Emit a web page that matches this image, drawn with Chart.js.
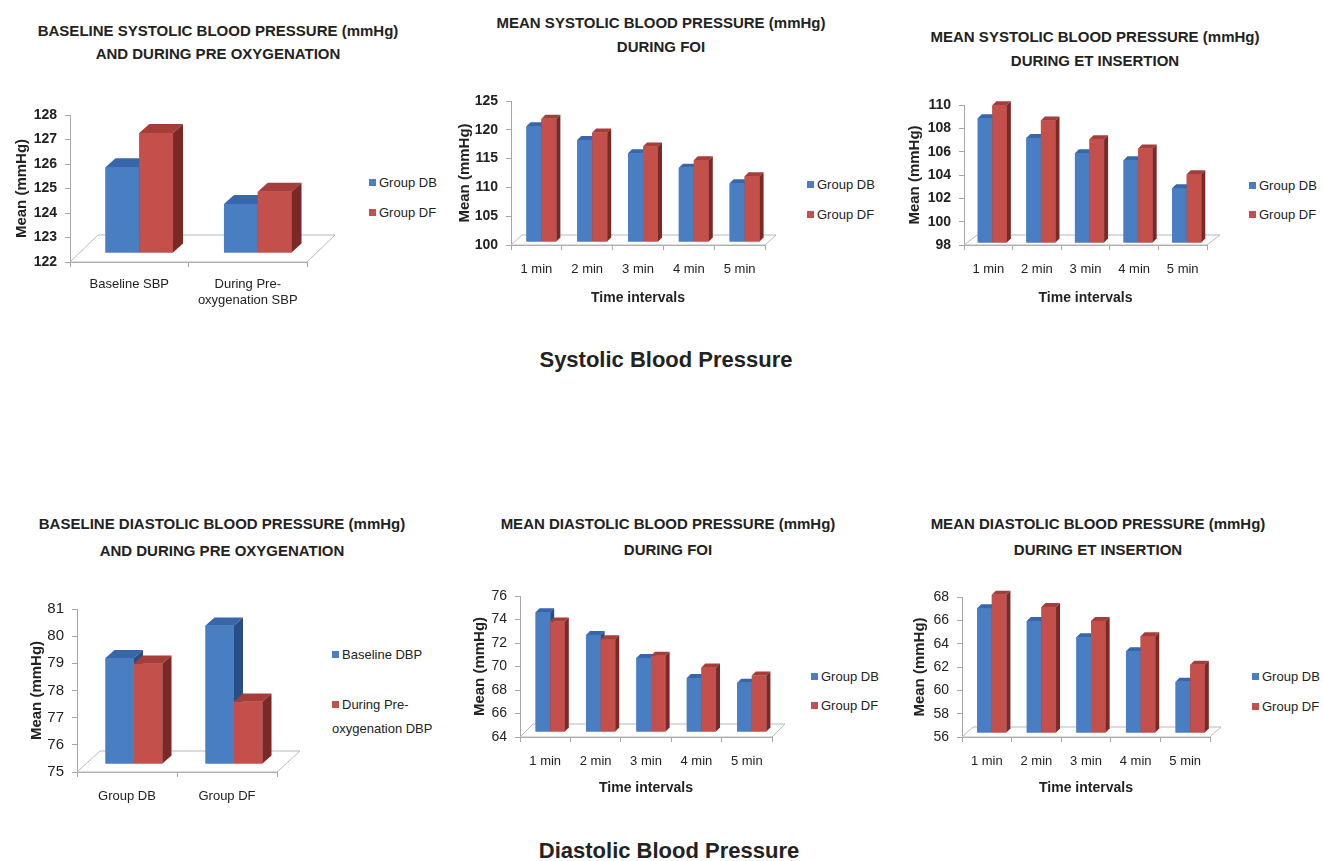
<!DOCTYPE html>
<html>
<head>
<meta charset="utf-8">
<script src="https://cdn.jsdelivr.net/npm/chart.js@4.4.1/dist/chart.umd.min.js"></script>
<style>
  body { margin: 0; background: #fff; width: 1323px; height: 861px; position: relative; overflow: hidden;
         font-family: 'Liberation Sans Narrow', 'Arial Narrow', 'Liberation Sans', sans-serif; color: #222; }
  canvas { position: absolute; }
  .t { position: absolute; transform: translate(-50%, -50%); white-space: nowrap; font-weight: bold; font-size: 15px; }
  .sec { position: absolute; transform: translate(-50%, -50%); white-space: nowrap; font-weight: bold; font-size: 22px;
         font-family: 'Liberation Sans', Arial, sans-serif; }
  .lg { position: absolute; font-size: 13px; line-height: 24px; white-space: nowrap; }
  .lg i { display: inline-block; width: 7px; height: 7px; margin-right: 3px; vertical-align: 1px; }
</style>
</head>
<body>
<script>
// systolic, baseline vs pre-oxygenation
const sbpBaseLabels = ['Baseline SBP', ['During Pre-', 'oxygenation SBP']];
const sbpBaseDB = [125.5, 124.0];
const sbpBaseDF = [126.9, 124.5];

// time intervals shared by the FOI / ET charts
const minutes = ['1 min', '2 min', '3 min', '4 min', '5 min'];

const sbpFoiDB = [120.1, 117.7, 115.4, 112.9, 110.2];
const sbpFoiDF = [121.4, 119.0, 116.6, 114.2, 111.4];

const sbpEtDB = [108.7, 107.0, 105.7, 105.1, 102.7];
const sbpEtDF = [109.8, 108.5, 106.9, 106.1, 103.9];

// diastolic, baseline vs pre-oxygenation
const dbpBaseLabels = ['Group DB', 'Group DF'];
const dbpBaseline = [78.9, 80.1];
const dbpPreOx = [78.7, 77.3];

const dbpFoiDB = [74.2, 72.25, 70.3, 68.6, 68.2];
const dbpFoiDF = [73.4, 71.9, 70.5, 69.5, 68.8];

const dbpEtDB = [66.7, 65.6, 64.2, 63.0, 60.4];
const dbpEtDF = [67.85, 66.8, 65.6, 64.3, 61.85];

const FONT = "'Liberation Sans Narrow','Arial Narrow','Liberation Sans',sans-serif";
const AXIS = '#a6a6a6';
const BLUE = { front: '#4a7ec2', top: '#3766ab', side: '#294d85' };
const RED = { front: '#c4504c', top: '#a53d3a', side: '#7a2927' };

// fake excel-like 3d: floor, shifted bars, top + side faces
const bars3d = {
  id: 'bars3d',
  beforeDatasetsDraw(chart, args, opts) {
    const ctx = chart.ctx, a = chart.chartArea;
    const fx = opts.floor[0], fy = opts.floor[1];
    ctx.save();
    ctx.beginPath();
    ctx.moveTo(a.left, a.bottom);
    ctx.lineTo(a.right, a.bottom);
    ctx.lineTo(a.right + fx, a.bottom - fy);
    ctx.lineTo(a.left + fx, a.bottom - fy);
    ctx.closePath();
    ctx.fillStyle = '#fff';
    ctx.fill();
    ctx.strokeStyle = '#b8b8b8';
    ctx.lineWidth = 1;
    ctx.stroke();
    ctx.restore();
    ctx.save();
    ctx.translate(opts.shift[0], -opts.shift[1]);
  },
  afterDatasetsDraw(chart, args, opts) {
    const ctx = chart.ctx;
    const dx = opts.depth[0], dy = opts.depth[1];
    for (let i = 0; i < chart.data.labels.length; i++) {
      chart.data.datasets.forEach((ds, d) => {
        const bar = chart.getDatasetMeta(d).data[i];
        const L = bar.x - bar.width / 2, R = bar.x + bar.width / 2, T = bar.y, B = bar.base;
        ctx.fillStyle = ds.faces.front;
        ctx.fillRect(L, T, R - L, B - T);
        ctx.beginPath();
        ctx.moveTo(L, T); ctx.lineTo(L + dx, T - dy); ctx.lineTo(R + dx, T - dy); ctx.lineTo(R, T);
        ctx.closePath();
        ctx.fillStyle = ds.faces.top;
        ctx.fill();
        ctx.beginPath();
        ctx.moveTo(R, T); ctx.lineTo(R + dx, T - dy); ctx.lineTo(R + dx, B - dy); ctx.lineTo(R, B);
        ctx.closePath();
        ctx.fillStyle = ds.faces.side;
        ctx.fill();
      });
    }
    ctx.restore();
  }
};

function makeChart(s) {
  const [cx, cy, cw, ch] = s.canvas;
  const [al, at, ar, ab] = s.area;
  const cv = document.createElement('canvas');
  cv.width = cw; cv.height = ch;
  cv.style.left = cx + 'px'; cv.style.top = cy + 'px';
  cv.style.width = cw + 'px'; cv.style.height = ch + 'px';
  document.body.appendChild(cv);

  const titleFont = { family: FONT, size: 15, weight: 'bold' };
  const lh = 15 * 1.2;
  const xTitle = s.xTitleY
    ? { display: true, text: 'Time intervals', color: '#222', font: { family: FONT, size: 14, weight: 'bold' },
        padding: { top: 0, bottom: cy + ch - s.xTitleY - 14 * 0.6 } }
    : { display: false };

  new Chart(cv, {
    type: 'bar',
    data: {
      labels: s.labels,
      datasets: s.series.map(d => ({
        label: d.label, data: d.data, backgroundColor: d.faces.front, faces: d.faces,
        base: s.min, categoryPercentage: s.catPct, barPercentage: 1, clip: false
      }))
    },
    options: {
      responsive: false,
      animation: false,
      devicePixelRatio: 1,
      layout: { padding: { left: 0, top: at - cy, right: cx + cw - ar, bottom: 0 } },
      plugins: {
        legend: { display: false },
        tooltip: { enabled: false },
        bars3d: { floor: s.floor, shift: s.shift, depth: s.depth }
      },
      scales: {
        x: {
          grid: { drawOnChartArea: false, color: AXIS, tickLength: 5, offset: true },
          border: { color: AXIS },
          ticks: { font: { family: FONT, size: 13 }, color: '#222', padding: s.xPad, maxRotation: 0, autoSkip: false },
          title: xTitle,
          afterFit(sc) { sc.height = cy + ch - ab; }
        },
        y: {
          min: s.min, max: s.max,
          ticks: { stepSize: s.step, font: { family: FONT, size: s.tickSize, weight: s.tickWeight }, color: '#222', padding: 8 },
          grid: { drawOnChartArea: false, color: AXIS, tickLength: 5 },
          border: { color: AXIS },
          title: { display: true, text: 'Mean (mmHg)', color: '#222', font: titleFont,
                   padding: { top: s.yTitleX - cx - lh / 2, bottom: 0 } },
          afterFit(sc) { sc.width = al - cx; }
        }
      }
    },
    plugins: [bars3d]
  });

  // legend on the right
  s.series.forEach((d, k) => {
    const el = document.createElement('div');
    el.className = 'lg';
    el.style.left = s.legend.x + 'px';
    el.style.top = (s.legend.ys[k] - 12) + 'px';
    const lines = [].concat(d.label);
    el.innerHTML = '<i style="background:' + d.faces.front + '"></i>' + lines.join('<br>');
    document.body.appendChild(el);
  });

  s.title.ys.forEach((y, k) => {
    const el = document.createElement('div');
    el.className = 't';
    el.style.left = s.title.cx + 'px';
    el.style.top = y + 'px';
    el.textContent = s.title.lines[k];
    document.body.appendChild(el);
  });
}

makeChart({
  title: { lines: ['BASELINE SYSTOLIC BLOOD PRESSURE (mmHg)', 'AND DURING PRE OXYGENATION'], cx: 218, ys: [30, 53] },
  canvas: [0, 95, 345, 230], area: [70, 115, 307, 262],
  labels: sbpBaseLabels,
  series: [{ label: 'Group DB', data: sbpBaseDB, faces: BLUE }, { label: 'Group DF', data: sbpBaseDF, faces: RED }],
  min: 122, max: 128, step: 1, tickSize: 14, tickWeight: 'bold',
  yTitleX: 22, xTitleY: null, xPad: 10, catPct: 0.57,
  floor: [28, 27], shift: [10, 9], depth: [10, 9],
  legend: { x: 369, ys: [183, 213] }
});

makeChart({
  title: { lines: ['MEAN SYSTOLIC BLOOD PRESSURE (mmHg)', 'DURING FOI'], cx: 661, ys: [22, 46] },
  canvas: [440, 80, 360, 226], area: [511, 101, 765, 245],
  labels: minutes,
  series: [{ label: 'Group DB', data: sbpFoiDB, faces: BLUE }, { label: 'Group DF', data: sbpFoiDF, faces: RED }],
  min: 100, max: 125, step: 5, tickSize: 14, tickWeight: 'bold',
  yTitleX: 465, xTitleY: 298, xPad: 12, catPct: 0.59,
  floor: [11, 10], shift: [5, 3], depth: [4, 4],
  legend: { x: 807, ys: [185, 215] }
});

makeChart({
  title: { lines: ['MEAN SYSTOLIC BLOOD PRESSURE (mmHg)', 'DURING ET INSERTION'], cx: 1095, ys: [36, 60] },
  canvas: [890, 85, 345, 221], area: [964, 105, 1207, 245],
  labels: minutes,
  series: [{ label: 'Group DB', data: sbpEtDB, faces: BLUE }, { label: 'Group DF', data: sbpEtDF, faces: RED }],
  min: 98, max: 110, step: 2, tickSize: 14, tickWeight: 'bold',
  yTitleX: 915, xTitleY: 298, xPad: 12, catPct: 0.6,
  floor: [13, 10], shift: [4, 2], depth: [4, 4],
  legend: { x: 1249, ys: [186, 215] }
});

makeChart({
  title: { lines: ['BASELINE DIASTOLIC BLOOD PRESSURE (mmHg)', 'AND DURING PRE OXYGENATION'], cx: 222, ys: [523, 550] },
  canvas: [0, 590, 325, 225], area: [77, 609, 277, 772],
  labels: dbpBaseLabels,
  series: [{ label: 'Baseline DBP', data: dbpBaseline, faces: BLUE }, { label: ['During Pre-', 'oxygenation DBP'], data: dbpPreOx, faces: RED }],
  min: 75, max: 81, step: 1, tickSize: 15, tickWeight: 'normal',
  yTitleX: 37, xTitleY: null, xPad: 12, catPct: 0.57,
  floor: [23, 21], shift: [7, 8], depth: [9, 8],
  legend: { x: 332, ys: [655, 705] }
});

makeChart({
  title: { lines: ['MEAN DIASTOLIC BLOOD PRESSURE (mmHg)', 'DURING FOI'], cx: 668, ys: [523, 549] },
  canvas: [440, 576, 360, 221], area: [520, 596, 772, 737],
  labels: minutes,
  series: [{ label: 'Group DB', data: dbpFoiDB, faces: BLUE }, { label: 'Group DF', data: dbpFoiDF, faces: RED }],
  min: 64, max: 76, step: 2, tickSize: 14, tickWeight: 'normal',
  yTitleX: 480, xTitleY: 788, xPad: 12, catPct: 0.58,
  floor: [13, 13], shift: [5, 5], depth: [4, 4],
  legend: { x: 811, ys: [677, 706] }
});

makeChart({
  title: { lines: ['MEAN DIASTOLIC BLOOD PRESSURE (mmHg)', 'DURING ET INSERTION'], cx: 1098, ys: [523, 549] },
  canvas: [890, 577, 350, 220], area: [962, 597, 1210, 737],
  labels: minutes,
  series: [{ label: 'Group DB', data: dbpEtDB, faces: BLUE }, { label: 'Group DF', data: dbpEtDF, faces: RED }],
  min: 56, max: 68, step: 2, tickSize: 14, tickWeight: 'normal',
  yTitleX: 920, xTitleY: 788, xPad: 12, catPct: 0.59,
  floor: [11, 10], shift: [5, 4], depth: [4, 4],
  legend: { x: 1252, ys: [677, 707] }
});

[['Systolic Blood Pressure', 666, 360], ['Diastolic Blood Pressure', 669, 851]].forEach(([txt, x, y]) => {
  const el = document.createElement('div');
  el.className = 'sec';
  el.style.left = x + 'px';
  el.style.top = y + 'px';
  el.textContent = txt;
  document.body.appendChild(el);
});
</script>
</body>
</html>
